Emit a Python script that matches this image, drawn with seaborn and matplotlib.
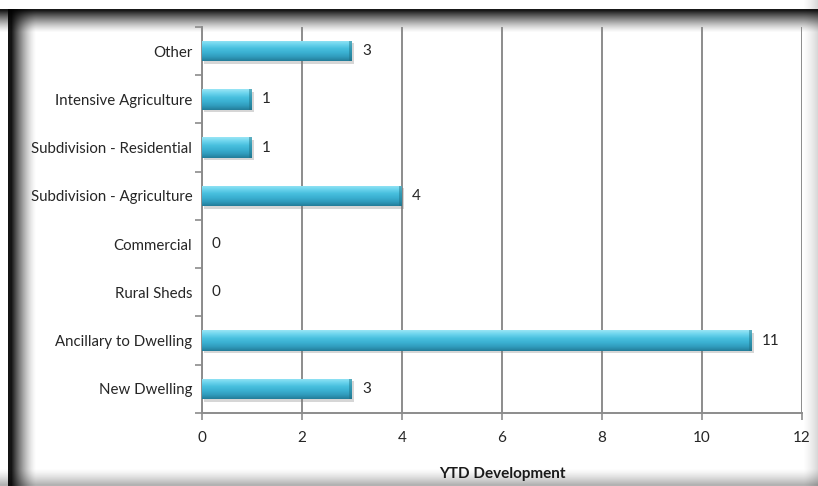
import numpy as np
import pandas as pd
import matplotlib
matplotlib.use("Agg")
import matplotlib.pyplot as plt
import matplotlib.transforms as mtransforms
import seaborn as sns

# YTD development applications by category
categories = [
    "Other",
    "Intensive Agriculture",
    "Subdivision - Residential",
    "Subdivision - Agriculture",
    "Commercial",
    "Rural Sheds",
    "Ancillary to Dwelling",
    "New Dwelling",
]
counts = [3, 1, 1, 4, 0, 0, 11, 3]
x_ticks = [0, 2, 4, 6, 8, 10, 12]
x_title = "YTD Development"

df = pd.DataFrame({"category": categories, "count": counts})

sns.set_theme(style="white")
plt.rcParams["font.family"] = ["Lato", "DejaVu Sans"]

W, H = 818, 486
fig = plt.figure(figsize=(W / 100, H / 100), dpi=100, facecolor="white")

# shaded picture-frame border, painted as an opaque image behind everything
yy, xx = np.mgrid[0:H, 0:W].astype(float)

def band(dist, solid, fade, peak, power):
    t = np.clip((dist - solid) / fade, 0, 1)
    v = peak * (1 - t) ** power
    return np.where(dist < 0, 0.0, v)

top = band(yy - 10, 1, 22, 0.9, 1.3)
left = band(xx - 8, 3, 25, 0.92, 1.5) * (yy >= 10)
bottom = band(H - 1 - yy, 1, 16, 0.3, 1.4)
right = band(W - 1 - xx, 0, 14, 0.15, 1.3)
dark = 1 - (1 - top) * (1 - left) * (1 - bottom) * (1 - right)
shade = 1.0 - dark
frame = np.stack([shade, shade, shade, np.ones_like(shade)], axis=-1)
bg = fig.add_axes([0, 0, 1, 1], zorder=-5)
bg.imshow(frame, extent=(0, W, H, 0), aspect="auto", interpolation="nearest")
bg.set_xlim(0, W)
bg.set_ylim(H, 0)
bg.axis("off")

ax_l, ax_r, ax_t, ax_b = 202, 802, 27, 413
ax = fig.add_axes([ax_l / W, (H - ax_b) / H, (ax_r - ax_l) / W, (ax_b - ax_t) / H])
ax.set_facecolor("none")

bar_h = 0.42
# soft drop shadow under the bars
shadow_tr = mtransforms.offset_copy(ax.transData, fig=fig, x=1.5, y=-2.5, units="dots")
ax.barh(np.arange(len(categories)), counts, height=bar_h, color="#7a7a7a",
        alpha=0.3, linewidth=0, zorder=2, transform=shadow_tr)

sns.barplot(data=df, x="count", y="category", orient="h", color="#3db8d4",
            width=bar_h, ax=ax, zorder=3, linewidth=0)

# cylinder-like shading on each bar
grad_colors = np.array([
    [0.60, 0.90, 0.96],
    [0.42, 0.83, 0.93],
    [0.28, 0.75, 0.87],
    [0.23, 0.69, 0.82],
    [0.19, 0.61, 0.74],
    [0.14, 0.49, 0.60],
])
pos = np.linspace(0, 1, len(grad_colors))
t = np.linspace(0, 1, 64)
grad = np.stack([np.interp(t, pos, grad_colors[:, c]) for c in range(3)], axis=-1)
grad = grad[:, None, :]
for p in ax.patches:
    if p.get_zorder() != 3:
        continue
    x0, y0 = p.get_x(), p.get_y()
    w, h = p.get_width(), p.get_height()
    if w <= 0:
        continue
    im = ax.imshow(grad, extent=(x0, x0 + w, y0 + h, y0), origin="upper",
                   aspect="auto", zorder=4, interpolation="bilinear")
    im.set_clip_path(p)
    # darker end cap
    ax.fill_between([x0 + w - 0.06, x0 + w], y0, y0 + h, color="#1d6f82",
                    alpha=0.45, zorder=5, linewidth=0)

for i, v in enumerate(counts):
    ax.text(v + 0.2, i, str(v), va="center", ha="left", fontsize=11,
            color="#262626", zorder=6)

ax.set_xlim(0, 12)
ax.set_ylim(len(categories) - 0.5, -0.5)
ax.set_xticks(x_ticks)
ax.set_xticklabels([str(v) for v in x_ticks])
ax.xaxis.grid(True, color="#8c8c8c", linewidth=1.4, zorder=1)
ax.yaxis.grid(False)
ax.set_axisbelow(True)

ax.set_yticks(range(len(categories)))
ax.set_yticklabels(categories)
ax.set_yticks(np.arange(-0.5, len(categories), 1.0), minor=True)
ax.tick_params(axis="y", which="major", length=0, pad=7, labelsize=10.8,
               labelcolor="#262626")
ax.tick_params(axis="y", which="minor", length=5, width=1.2, color="#8c8c8c",
               left=True, direction="out")
ax.tick_params(axis="x", which="major", length=5, width=1.2, color="#8c8c8c",
               bottom=True, direction="out", pad=8, labelsize=11,
               labelcolor="#262626")

for side in ["top", "right"]:
    ax.spines[side].set_visible(False)
for side in ["left", "bottom"]:
    ax.spines[side].set_color("#8c8c8c")
    ax.spines[side].set_linewidth(1.4)

ax.set_ylabel("")
ax.set_xlabel(x_title, fontsize=11, fontweight="bold", color="#1a1a1a")
ax.xaxis.set_label_coords(0.5, (ax_b - 474) / (ax_b - ax_t))
ax.xaxis.label.set_va("center")

fig.savefig("out.png", dpi=100, facecolor="white")
